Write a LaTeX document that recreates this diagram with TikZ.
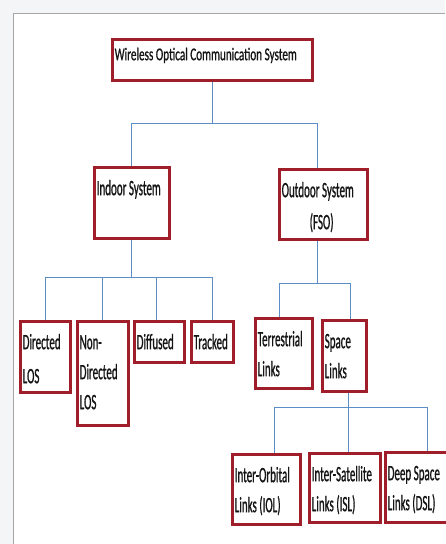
\documentclass[tikz,border=0pt]{standalone}
\usepackage{fontspec}
\setmainfont{Carlito}[FakeStretch=0.5,FakeBold=0.8]
\newfontfamily\rootfont{Carlito}[FakeStretch=0.62,FakeBold=0.8]
\usepackage{xcolor}
\usepackage{tikz}
\usetikzlibrary{backgrounds}
\definecolor{boxred}{RGB}{160,30,42}
\definecolor{linkblue}{RGB}{91,141,198}
\definecolor{pagegray}{RGB}{244,245,247}
\newcommand{\topstrut}{\rule{0pt}{29pt}}
\newcommand{\rootstrut}{\rule{0pt}{22pt}}

\begin{document}
\begin{tikzpicture}[x=1pt,y=-1pt,
    box/.style={draw=boxred,line width=2.6pt,fill=white,rectangle,anchor=north west,inner sep=0pt},
    txt/.style={anchor=north west,inner xsep=3.5pt,inner ysep=0pt,align=left,text=black!92,
      font=\fontsize{22}{30}\selectfont},
    roottxt/.style={txt,font=\rootfont\fontsize{18}{24}\selectfont},
    link/.style={draw=linkblue,line width=1pt}]
    \useasboundingbox (0,0) rectangle (445,544);

    % boxes
    \node[box,minimum width=200pt,minimum height=41pt] (root) at (111,38) {};
    \node[box,minimum width=75pt,minimum height=71pt] (indoor) at (93,166) {};
    \node[box,minimum width=88pt,minimum height=70pt] (outdoor) at (278,168) {};
    \node[box,minimum width=50pt,minimum height=71pt] (dlos) at (19,320) {};
    \node[box,minimum width=51pt,minimum height=104pt] (ndlos) at (76,320) {};
    \node[box,minimum width=50pt,minimum height=41pt] (diff) at (133,320) {};
    \node[box,minimum width=42pt,minimum height=41pt] (track) at (190,320) {};
    \node[box,minimum width=57pt,minimum height=70pt] (terr) at (254,317) {};
    \node[box,minimum width=44pt,minimum height=71pt] (space) at (321,319) {};
    \node[box,minimum width=68pt,minimum height=70pt] (iol) at (231,453) {};
    \node[box,minimum width=71pt,minimum height=69pt] (isl) at (308,452) {};
    \node[box,minimum width=62pt,minimum height=70pt] (dsl) at (384,451) {};

    % texts
    \node[roottxt] at (root.north west) {\rootstrut Wireless Optical Communication System};
    \node[txt] at (indoor.north west) {\topstrut Indoor System};
    \node[txt] at (outdoor.north west) {\topstrut Outdoor System\\[2pt]\hspace{28pt}(FSO)};
    \node[txt] at (dlos.north west) {\topstrut Directed\\[4pt]LOS};
    \node[txt] at (ndlos.north west) {\topstrut Non-\\Directed\\LOS};
    \node[txt] at (diff.north west) {\topstrut Diffused};
    \node[txt] at (track.north west) {\topstrut Tracked};
    \node[txt] at (terr.north west) {\topstrut Terrestrial\\Links};
    \node[txt] at (space.north west) {\topstrut Space\\Links};
    \node[txt] at (iol.north west) {\topstrut Inter-Orbital\\Links (IOL)};
    \node[txt] at (isl.north west) {\topstrut Inter-Satellite\\Links (ISL)};
    \node[txt] at (dsl.north west) {\topstrut Deep Space\\Links (DSL)};

    \begin{scope}[on background layer]
    \fill[pagegray] (0,0) rectangle (445,544);
    \fill[white] (13,13) rectangle (445,544);
    \draw[gray!70,line width=1pt] (13,544) -- (13,13) -- (445,13);

    % connectors
    \draw[link] (root.south) -- ++(0,42) coordinate (top bus);
    \draw[link] (indoor.north) |- (top bus) -| ([xshift=-6pt]outdoor.north);

    \draw[link] (indoor.south) -- ++(0,38) coordinate (in bus);
    \draw[link] (dlos.north) |- (in bus) -| (track.north);
    \draw[link] (ndlos.north) -- (ndlos.north |- in bus);
    \draw[link] ([xshift=-3pt]diff.north) -- ([xshift=-3pt]diff.north |- in bus);

    \draw[link] ([xshift=-6pt]outdoor.south) -- ++(0,43) coordinate (out bus);
    \draw[link] ([xshift=-4pt]terr.north) |- (out bus) -| ([xshift=6pt]space.north);

    \draw[link] ([xshift=4pt]space.south) -- ++(0,15) coordinate (sp bus);
    \draw[link] ([xshift=8pt]iol.north) |- (sp bus) -| ([xshift=11pt]dsl.north);
    \draw[link] ([xshift=4pt]isl.north) -- ([xshift=4pt]isl.north |- sp bus);
    \end{scope}
\end{tikzpicture}
\end{document}
